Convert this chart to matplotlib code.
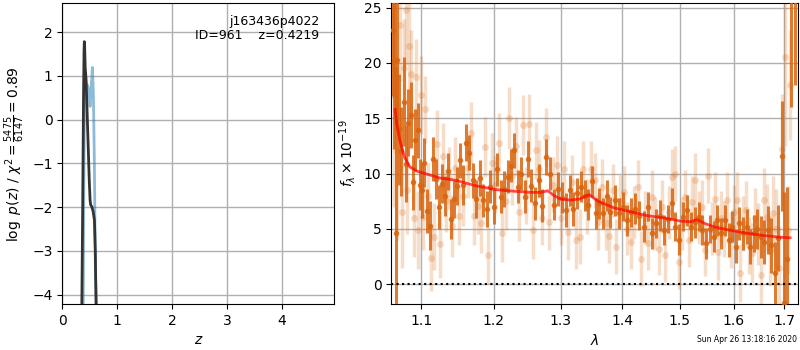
import numpy as np
import matplotlib
matplotlib.use('Agg')
import matplotlib.pyplot as plt
from matplotlib.ticker import NullLocator

# ---- p(z) panel ----
pz_z = [0.354, 0.37, 0.385, 0.395, 0.40, 0.405, 0.415, 0.432, 0.45, 0.47,
        0.49, 0.505, 0.515, 0.536, 0.56, 0.584, 0.60, 0.614]
pz_log = [-4.3, -2.0, 0.5, 1.6, 1.78, 1.70, 1.2, 0.91, 0.2, -0.6,
          -1.4, -1.84, -1.95, -1.99, -2.1, -2.30, -3.0, -4.3]

chi_z = [0.380, 0.390, 0.405, 0.42, 0.44, 0.456, 0.48, 0.505, 0.52, 0.547,
         0.565, 0.583, 0.602, 0.625]
chi_val = [-4.3, -1.5, 0.6, 0.9, 0.8, 0.79, 0.7, 0.30, 0.6, 1.19,
           0.6, -1.0, -3.5, -4.3]

obj_id = 'j163436p4022'
obj_txt = 'ID=961    z=0.4219'
stamp = 'Sun Apr 26 13:18:16 2020'

# ---- spectrum panel: first orientation (solid) ----
wave_a = [1.063, 1.065, 1.067, 1.069, 1.071, 1.074, 1.077, 1.080, 1.083, 1.086,
          1.089, 1.092, 1.095, 1.098, 1.101, 1.104, 1.108, 1.112, 1.116, 1.120,
          1.124, 1.128, 1.132, 1.136, 1.140, 1.144, 1.148, 1.152, 1.156, 1.160,
          1.165, 1.170, 1.175, 1.180, 1.185, 1.190, 1.195, 1.200, 1.205, 1.210,
          1.215, 1.220, 1.225, 1.230, 1.235, 1.240, 1.245, 1.250, 1.255, 1.260,
          1.266, 1.272, 1.278, 1.284, 1.290, 1.296, 1.302, 1.308, 1.314, 1.320,
          1.326, 1.332, 1.338, 1.344, 1.350, 1.356, 1.362, 1.368, 1.374, 1.380,
          1.387, 1.394, 1.401, 1.408, 1.415, 1.422, 1.429, 1.436, 1.443, 1.450,
          1.457, 1.464, 1.471, 1.478, 1.485, 1.492, 1.499, 1.506, 1.513, 1.520,
          1.527, 1.534, 1.541, 1.548, 1.555, 1.562, 1.569, 1.576, 1.583, 1.590,
          1.597, 1.604, 1.611, 1.618, 1.625, 1.632, 1.639, 1.646, 1.653, 1.660,
          1.667, 1.674, 1.681, 1.688, 1.695, 1.700, 1.706, 1.713, 1.722]
flux_a = [23.0, 20.2, 4.6, 20.3, 14.0, 12.0, 16.5, 10.9, 14.6, 15.3,
          9.2, 13.0, 13.9, 9.0, 8.5, 11.0, 6.6, 5.3, 11.3, 9.5,
          7.0, 9.1, 8.0, 10.2, 5.9, 7.7, 8.9, 11.2, 9.0, 12.8,
          11.9, 9.4, 7.7, 9.6, 7.6, 6.8, 8.8, 7.0, 10.4, 7.9,
          8.6, 9.7, 10.7, 12.1, 8.8, 10.0, 7.9, 11.3, 8.9, 7.3,
          9.4, 7.1, 11.5, 10.0, 7.2, 8.6, 7.8, 6.7, 8.5, 6.8,
          8.2, 8.8, 8.0, 7.2, 9.3, 6.4, 7.3, 6.4, 8.0, 6.5,
          7.6, 6.4, 7.0, 5.8, 6.5, 6.8, 6.2, 5.2, 7.0, 4.6,
          5.5, 6.2, 4.9, 5.9, 7.3, 5.2, 4.0, 6.1, 6.7, 5.2,
          5.6, 6.1, 4.9, 3.7, 5.0, 4.3, 5.8, 4.6, 5.8, 4.0,
          5.2, 3.4, 5.5, 4.6, 5.2, 3.4, 4.6, 5.0, 4.3, 3.8,
          4.9, 3.5, 1.0, 4.2, 11.6, -1.7, 2.3, 31.0, 28.0]
err_a = [6.0, 8.0, 15.0, 6.0, 5.0, 4.0, 4.0, 3.5, 3.0, 3.0,
         2.5, 2.8, 2.5, 2.3, 2.5, 2.2, 2.0, 2.2, 2.0, 1.8,
         2.0, 1.8, 1.8, 1.7, 1.8, 1.7, 1.7, 1.6, 1.8, 1.7,
         1.6, 1.6, 1.7, 1.6, 1.5, 1.6, 1.5, 1.6, 1.5, 1.5,
         1.6, 1.5, 1.5, 1.6, 1.5, 1.5, 1.5, 1.6, 1.5, 1.5,
         1.5, 1.5, 1.6, 1.5, 1.4, 1.5, 1.4, 1.5, 1.4, 1.5,
         1.4, 1.4, 1.4, 1.4, 1.4, 1.4, 1.4, 1.4, 1.4, 1.4,
         1.4, 1.4, 1.3, 1.4, 1.3, 1.4, 1.3, 1.4, 1.3, 1.4,
         1.3, 1.4, 1.4, 1.3, 1.4, 1.3, 1.4, 1.3, 1.4, 1.3,
         1.4, 1.3, 1.4, 1.4, 1.3, 1.4, 1.4, 1.4, 1.4, 1.5,
         1.4, 1.5, 1.5, 1.5, 1.6, 1.6, 1.7, 1.8, 1.9, 2.0,
         2.2, 2.5, 2.8, 3.0, 5.0, 10.0, 6.5, 15.0, 10.0]

# ---- second orientation (faint) ----
wave_b = [1.064, 1.066, 1.068, 1.072, 1.075, 1.078, 1.080, 1.081, 1.084, 1.087,
          1.090, 1.093, 1.096, 1.099, 1.102, 1.105, 1.109, 1.113, 1.117, 1.121,
          1.125, 1.129, 1.133, 1.137, 1.141, 1.146, 1.151, 1.157, 1.163, 1.168,
          1.172, 1.177, 1.182, 1.187, 1.192, 1.197, 1.202, 1.207, 1.212, 1.217,
          1.222, 1.227, 1.232, 1.237, 1.242, 1.247, 1.252, 1.257, 1.262, 1.267,
          1.272, 1.277, 1.282, 1.288, 1.294, 1.300, 1.306, 1.312, 1.318, 1.324,
          1.330, 1.336, 1.342, 1.348, 1.354, 1.360, 1.366, 1.372, 1.378, 1.384,
          1.390, 1.396, 1.402, 1.408, 1.414, 1.420, 1.426, 1.432, 1.438, 1.444,
          1.450, 1.456, 1.462, 1.468, 1.474, 1.480, 1.486, 1.492, 1.498, 1.504,
          1.510, 1.516, 1.522, 1.528, 1.534, 1.540, 1.546, 1.552, 1.558, 1.564,
          1.570, 1.576, 1.582, 1.588, 1.594, 1.600, 1.606, 1.612, 1.618, 1.624,
          1.630, 1.636, 1.642, 1.648, 1.654, 1.660, 1.666, 1.672, 1.678, 1.684,
          1.690, 1.696, 1.702, 1.708, 1.711]
flux_b = [17.0, 26.0, 12.0, 23.4, 6.5, 19.5, 24.8, 8.5, 21.5, 19.0,
          6.0, 18.7, 4.9, 17.1, 6.1, 15.8, 8.0, 2.4, 4.3, 12.7,
          3.6, 11.6, 7.5, 9.6, 5.3, 10.5, 6.2, 8.0, 10.5, 13.7,
          6.2, 7.1, 5.5, 12.4, 2.6, 11.0, 9.0, 12.8, 4.6, 7.5,
          15.0, 9.8, 12.5, 6.5, 14.4, 8.0, 14.5, 4.9, 12.1, 10.4,
          6.0, 13.3, 5.6, 9.0, 10.8, 6.0, 10.4, 4.7, 9.2, 4.0,
          4.3, 10.4, 7.0, 10.4, 9.4, 5.6, 8.8, 5.5, 4.4, 8.5,
          3.4, 7.5, 8.3, 5.0, 3.8, 6.5, 8.8, 2.3, 6.0, 3.7,
          7.9, 5.5, 3.2, 7.0, 2.6, 6.5, 9.7, 10.0, 2.0, 5.5,
          7.9, 4.0, 7.4, 9.4, 6.0, 7.0, 3.1, 9.8, 5.0, 7.7,
          2.9, 6.0, 5.0, 7.6, 4.0, 6.5, 7.6, 1.0, 5.5, 6.7,
          3.5, 2.8, 6.0, 4.5, 0.8, 7.6, 6.1, 3.0, 6.4, 5.0,
          1.5, 12.2, 20.5, 4.9, 18.0]
err_b = [10.0, 8.0, 8.0, 5.0, 5.0, 4.5, 5.0, 4.0, 4.0, 4.0,
         3.5, 3.5, 3.5, 3.5, 3.0, 3.0, 3.0, 3.0, 3.0, 3.0,
         3.0, 3.0, 2.8, 2.8, 2.8, 2.8, 2.7, 2.7, 2.7, 2.8,
         2.7, 2.6, 2.7, 2.7, 2.6, 2.7, 2.6, 2.7, 2.6, 2.6,
         2.8, 2.6, 2.6, 2.6, 2.7, 2.6, 2.7, 2.6, 2.6, 2.6,
         2.5, 2.6, 2.5, 2.5, 2.6, 2.5, 2.5, 2.5, 2.5, 2.6,
         2.5, 2.5, 2.5, 2.5, 2.5, 2.5, 2.5, 2.4, 2.5, 2.4,
         2.5, 2.4, 2.4, 2.4, 2.4, 2.4, 2.4, 2.5, 2.4, 2.4,
         2.4, 2.4, 2.4, 2.4, 2.4, 2.4, 2.5, 2.5, 2.4, 2.4,
         2.4, 2.4, 2.4, 2.5, 2.4, 2.4, 2.4, 2.5, 2.4, 2.4,
         2.5, 2.4, 2.5, 2.5, 2.5, 2.5, 2.5, 2.6, 2.5, 2.6,
         2.6, 2.7, 2.7, 2.8, 2.8, 2.9, 3.0, 3.2, 3.4, 3.6,
         3.8, 5.0, 8.0, 4.0, 5.0]

# ---- best-fit model ----
model_wave = [1.066, 1.068, 1.072, 1.078, 1.085, 1.095, 1.11, 1.125, 1.146, 1.174,
              1.203, 1.23, 1.254, 1.27, 1.28, 1.29, 1.30, 1.315, 1.33, 1.345,
              1.36, 1.386, 1.41, 1.442, 1.47, 1.502, 1.52, 1.53, 1.545, 1.562,
              1.59, 1.627, 1.66, 1.69, 1.712]
model_flux = [15.8, 14.5, 13.0, 11.5, 10.6, 10.2, 9.9, 9.6, 9.4, 8.9,
              8.55, 8.4, 8.3, 8.3, 8.45, 8.0, 7.7, 7.6, 7.7, 8.1,
              7.5, 6.9, 6.6, 6.2, 6.0, 5.7, 5.65, 5.85, 5.5, 5.2,
              4.9, 4.6, 4.4, 4.25, 4.2]

wave_ticks = [1.1, 1.2, 1.3, 1.4, 1.5, 1.6, 1.7]
col = '#d9650f'

fig = plt.figure(figsize=(8, 3.5), dpi=100)

# left: redshift probability
ax1 = fig.add_axes([0.078, 0.131, 0.340, 0.860])
ax1.plot(chi_z, chi_val, color='#1f77b4', alpha=0.5, lw=2)
ax1.plot(pz_z, pz_log, color='0.2', lw=2)
ax1.set_xlim(0, 4.96)
ax1.set_ylim(-4.22, 2.66)
ax1.set_xlabel(r'$z$')
ax1.set_ylabel(r'$\log\ p(z)$ / $\chi^2=\frac{5475}{6147}=0.89$')
ax1.grid(color='#b0b0b0', lw=1)
ax1.text(0.944, 0.962, obj_id + '\n' + obj_txt, ha='right', va='top',
         transform=ax1.transAxes, fontsize=9, linespacing=1.15)

# right: spectrum
ax2 = fig.add_axes([0.489, 0.131, 0.509, 0.860])
ax2.errorbar(wave_b, flux_b, yerr=err_b, fmt='o', color=col, alpha=0.22,
             ms=5, mec='none', elinewidth=2.5, capsize=0, zorder=2)
ax2.errorbar(wave_a, flux_a, yerr=err_a, fmt='o', color=col, alpha=0.85,
             ms=4, mec='none', elinewidth=2.2, capsize=0, zorder=3)
ax2.plot(model_wave, model_flux, color='r', alpha=0.7, lw=2, zorder=4)
ax2.axhline(0, color='k', ls=':', lw=1.5, zorder=5)
ax2.set_xscale('log')
ax2.set_xlim(1.061, 1.729)
ax2.set_ylim(-1.8, 25.4)
ax2.set_xticks(wave_ticks)
ax2.set_xticklabels([str(t) for t in wave_ticks])
ax2.xaxis.set_minor_locator(NullLocator())
ax2.set_yticks([0, 5, 10, 15, 20, 25])
ax2.set_xlabel(r'$\lambda$')
ax2.set_ylabel(r'$f_\lambda\times10^{-19}$')
ax2.grid(color='#b0b0b0', lw=1)

fig.text(0.996, 0.029, stamp, ha='right', va='center', fontsize=5.5)

fig.savefig('out.png', dpi=100)
